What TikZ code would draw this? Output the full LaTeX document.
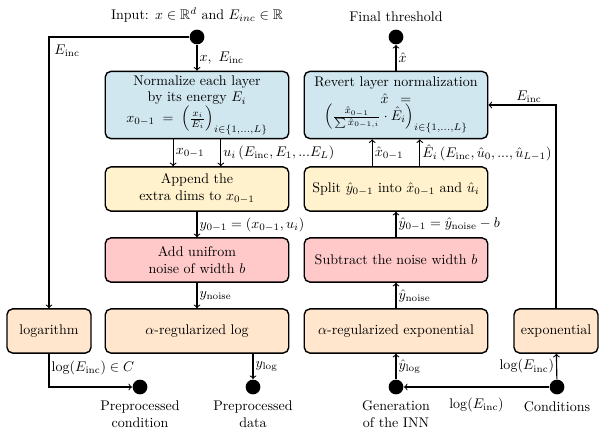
\documentclass[tikz,border=0pt]{standalone}
\usepackage{amsmath}
\usepackage{amssymb}
\def\boxw{131pt}
\def\colsep{17pt}
\definecolor{normblue}{HTML}{D0E7F0}
\definecolor{dimyellow}{HTML}{FFF2CC}
\definecolor{noisered}{HTML}{FFC9C9}
\definecolor{logorange}{HTML}{FFE6CC}

\begin{document}
\begin{tikzpicture}[x=0.714pt, y=-0.714pt, thick]
  \tikzstyle{block}=[draw, rounded corners=4pt, line width=1pt, minimum width=\boxw, minimum height=31.5pt, align=center, inner sep=1pt]
  \tikzstyle{small block}=[block, minimum width=60pt]
  \tikzstyle{dot}=[circle, fill, minimum size=10.5pt, inner sep=0pt]
  \tikzset{every node/.append style={inner sep=1.5pt}}

  \useasboundingbox (0,0) rectangle (599,428);

  % preprocessing
  \node[dot] (in) at (197,37) {};
  \node (in-txt) at (197,15) {Input: $x\in\mathbb{R}^d$ and $E_{inc}\in\mathbb{R}$};
  \node[block, fill=normblue, minimum height=48pt] (norm) at (197,105)
    {Normalize each layer\\ by its energy $E_i$\\
     $x_{0-1} \;=\; \left(\frac{x_i}{E_i}\right)_{i\in\{1,\ldots,L\}}$};
  \node[block, fill=dimyellow] (app) at (197,189) {Append the\\ extra dims to $x_{0-1}$};
  \node[block, fill=noisered] (noise) at (197,260) {Add unifrom\\ noise of width $b$};
  \node[block, fill=logorange] (alog) at (197,331) {$\alpha$-regularized log};
  \node[small block, fill=logorange] (log) at (49,331) {logarithm};

  \foreach \name / \x in {pcond/140, pdata/253, gen/396, cond/557}
    \node[dot] (\name) at (\x,387) {};
  \node[align=center] (pcond-txt) at (140,414) {Preprocessed\\ condition};
  \node[align=center] (pdata-txt) at (253,414) {Preprocessed\\ data};

  \draw[->] (in) -- node[right] {$x,\ E_{\mathrm{inc}}$} (norm);
  \draw[->] (in) -| node[pos=0.525, right=2pt] {$E_{\mathrm{inc}}$} (log);
  \draw[->] ([xshift=-\colsep]norm.south) -- node[right] {$x_{0-1}$} ([xshift=-\colsep]app.north);
  \draw[->] ([xshift=\colsep]norm.south) -- node[right]
    {$u_i\left(E_{\mathrm{inc}}, E_1, ...E_L\right)$} ([xshift=\colsep]app.north);
  \draw[->] (app) -- node[right] {$y_{0-1} = (x_{0-1}, u_i)$} (noise);
  \draw[->] (noise) -- node[right] {$y_{\mathrm{noise}}$} (alog);
  \draw[->] (alog.south -| pdata) -- node[right] {$y_{\log}$} (pdata);
  \draw[->] (log) |- node[pos=0.22, right] {$\log(E_{\mathrm{inc}}) \in C$} (pcond);

  % postprocessing
  \node[dot] (out) at (396,37) {};
  \node (out-txt) at (396,17) {Final threshold};
  \node[block, fill=normblue, minimum height=48pt] (rev) at (396,105)
    {Revert layer normalization\\ $\hat{x} \;\;=$\\
     $\left(\frac{\hat{x}_{0-1}}{\sum \hat{x}_{0-1,i}}\cdot\hat{E}_i\right)_{i\in\{1,\ldots,L\}}$};
  \node[block, fill=dimyellow] (split) at (396,189) {Split $\hat{y}_{0-1}$ into $\hat{x}_{0-1}$ and $\hat{u}_i$};
  \node[block, fill=noisered] (sub) at (396,260) {Subtract the noise width $b$};
  \node[block, fill=logorange] (aexp) at (396,331) {$\alpha$-regularized exponential};
  \node[small block, fill=logorange] (exp) at (556,331) {exponential};

  \node[align=center] (gen-txt) at (396,414) {Generation\\ of the INN};
  \node (cond-txt) at (557,407) {Conditions};

  \draw[->] (rev) -- node[right] {$\hat{x}$} (out);
  \draw[->] ([xshift=-\colsep]split.north) -- node[right] {$\hat{x}_{0-1}$} ([xshift=-\colsep]rev.south);
  \draw[->] ([xshift=\colsep]split.north) -- node[right]
    {$\hat{E}_i\left(E_{\mathrm{inc}}, \hat{u}_0, ..., \hat{u}_{L-1}\right)$} ([xshift=\colsep]rev.south);
  \draw[->] (sub) -- node[right] {$\hat{y}_{0-1} = \hat{y}_{\mathrm{noise}} - b$} (split);
  \draw[->] (aexp) -- node[right] {$\hat{y}_{\mathrm{noise}}$} (sub);
  \draw[->] (gen) -- node[right] {$\hat{y}_{\log}$} (aexp);
  \draw[->] (cond) -- node[below=6pt] {$\log(E_{\mathrm{inc}})$} (gen);
  \draw[->] (cond) -- node[left] {$\log(E_{\mathrm{inc}})$} (exp);
  \draw[->] (exp) |- node[pos=0.7, above] {$E_{\mathrm{inc}}$} (rev);
\end{tikzpicture}
\end{document}
